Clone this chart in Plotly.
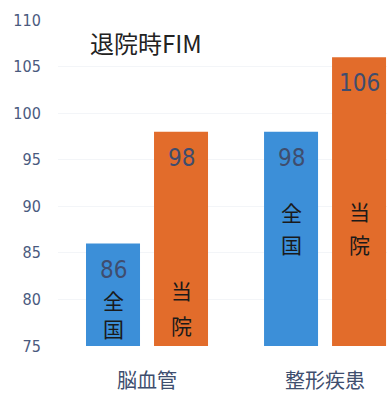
import plotly.graph_objects as go

categories = ["脳血管", "整形疾患"]
national = [86, 98]
hospital = [98, 106]
series_names = ["全国", "当院"]
y_ticks = [75, 80, 85, 90, 95, 100, 105, 110]

BLUE = "#3c8fd8"
ORANGE = "#e26c2b"
TICK_COLOR = "#4a5a7e"
VAL_COLOR = "#3f4d6e"
NUM_FONT = "DejaVu Sans Condensed, Liberation Sans Narrow, sans-serif"
CJK_FONT = "Noto Sans CJK JP, sans-serif"

fig = go.Figure()
fig.add_trace(go.Bar(x=categories, y=national, name=series_names[0],
                     marker=dict(color=BLUE, line=dict(width=0))))
fig.add_trace(go.Bar(x=categories, y=hospital, name=series_names[1],
                     marker=dict(color=ORANGE, line=dict(width=0))))

annotations = []
# value labels near the top of each bar
for vals, shift in ((national, -34), (hospital, 34)):
    for cat, v in zip(categories, vals):
        annotations.append(dict(x=cat, y=v, xref="x", yref="y", xshift=shift, yshift=-26,
                                text=str(v), showarrow=False,
                                font=dict(family=NUM_FONT, size=24, color=VAL_COLOR)))
# vertical series labels inside bars (one character per annotation)
label_y = {("脳血管", 0): (79.95, 76.95), ("脳血管", 1): (81.0, 77.3),
           ("整形疾患", 0): (89.4, 86.0), ("整形疾患", 1): (89.5, 85.9)}
for si, (name, shift) in enumerate(((series_names[0], -34), (series_names[1], 34))):
    for cat in categories:
        for ch, yy in zip(name, label_y[(cat, si)]):
            annotations.append(dict(x=cat, y=yy, xref="x", yref="y", xshift=shift,
                                    text=ch, showarrow=False,
                                    font=dict(family=CJK_FONT, size=21, color="#1a1a1a")))

fig.update_layout(
    width=387, height=394,
    margin=dict(l=58, r=0, t=20, b=42),
    paper_bgcolor="white", plot_bgcolor="white",
    showlegend=False,
    barmode="group", bargap=0.236, bargroupgap=0.206,
    title=dict(text="退院時FIM", x=90/387, xanchor="left", y=1-45/394, yanchor="middle",
               font=dict(family=CJK_FONT, size=24, color="#222222")),
    xaxis=dict(range=[-0.5, 1.348], showline=False, showgrid=False, zeroline=False,
               ticks="outside", ticklen=17, tickcolor="rgba(0,0,0,0)",
               tickfont=dict(family=CJK_FONT, size=20, color="#3e4e6e")),
    yaxis=dict(range=[75, 110], tickvals=y_ticks, showline=False, zeroline=False,
               showgrid=True, gridcolor="#f3f5f8",
               ticks="outside", ticklen=13, tickcolor="rgba(0,0,0,0)",
               tickfont=dict(family=NUM_FONT, size=16, color=TICK_COLOR)),
    annotations=annotations,
)

fig.write_html("out.html")
